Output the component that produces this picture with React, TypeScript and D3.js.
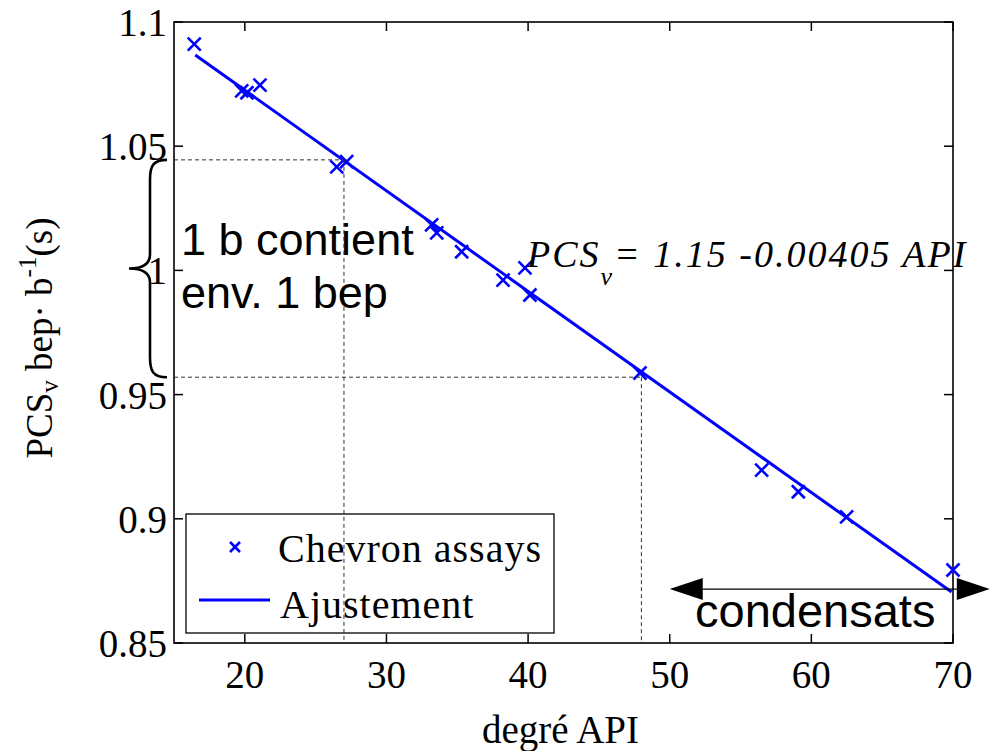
import React from "react";
import * as d3 from "d3";

const apiValues = [16.43, 19.78, 20.15, 21.07, 26.49, 27.19, 33.19, 33.55, 35.31, 38.23, 39.78, 40.13, 47.9, 56.49, 59.08, 62.49, 70.0];
const pcsValues = [1.0911, 1.0723, 1.0715, 1.0746, 1.0417, 1.0438, 1.0183, 1.0151, 1.0075, 0.9961, 1.001, 0.9901, 0.9587, 0.9196, 0.9109, 0.9008, 0.8794];
const fitApi = [16.5, 69.9];
const fitPcs = [1.0867, 0.8705];
const xTickValues = [20, 30, 40, 50, 60, 70];
const yTickValues = [0.85, 0.9, 0.95, 1, 1.05, 1.1];
const yTickLabels = ["0.85", "0.9", "0.95", "1", "1.05", "1.1"];
const guideApi = [27, 48];
const guidePcs = [1.0445, 0.957];
const arrowApi = [50, 72.6];
const arrowPcs = 0.8717;

const W = 990, H = 751;
const M = { left: 174, right: 953, top: 22, bottom: 643 };
const SERIF = "'Liberation Serif', 'Times New Roman', serif";
const SANS = "'Liberation Sans', Arial, sans-serif";
const BLUE = "#0000ff";

export default function App() {
  const x = d3.scaleLinear().domain([15, 70]).range([M.left, M.right]);
  const y = d3.scaleLinear().domain([0.85, 1.1]).range([M.bottom, M.top]);
  const fitLine = d3.line<number>().x((d, i) => x(fitApi[i])).y((d) => y(d))(fitPcs) || "";
  const tick = 9;
  const cross = (cx: number, cy: number, r: number, key: any) => (
    <path key={key} d={`M${cx - r},${cy - r}L${cx + r},${cy + r}M${cx - r},${cy + r}L${cx + r},${cy - r}`} stroke={BLUE} strokeWidth={2.6} fill="none" />
  );
  const gy1 = y(guidePcs[0]), gy2 = y(guidePcs[1]);
  const bx = 150, tipX = 129, endX = 167;
  const midY = (gy1 + gy2) / 2;
  const brace = `M${endX},${gy1} C${bx + 3},${gy1} ${bx},${gy1 + 6} ${bx},${gy1 + 20} L${bx},${midY - 14} C${bx},${midY - 5} ${bx - 6},${midY} ${tipX},${midY} C${bx - 6},${midY} ${bx},${midY + 5} ${bx},${midY + 14} L${bx},${gy2 - 20} C${bx},${gy2 - 6} ${bx + 3},${gy2} ${endX},${gy2}`;
  const ax1 = x(arrowApi[0]), ax2 = x(arrowApi[1]), ay = y(arrowPcs);
  const ah = 33, aw = 11;
  return (
    <svg width={W} height={H} style={{ position: "absolute", left: 0, top: 0, background: "#fff" }}>
      <rect x={0} y={0} width={W} height={H} fill="#fff" />
      {/* frame */}
      <rect x={M.left} y={M.top} width={M.right - M.left} height={M.bottom - M.top} fill="none" stroke="#000" strokeWidth={1.6} />
      {xTickValues.map((v) => (
        <g key={"xt" + v}>
          <line x1={x(v)} x2={x(v)} y1={M.bottom} y2={M.bottom - tick} stroke="#000" strokeWidth={1.5} />
          <line x1={x(v)} x2={x(v)} y1={M.top} y2={M.top + tick} stroke="#000" strokeWidth={1.5} />
          <text x={x(v)} y={M.bottom + 45} fontFamily={SERIF} fontSize={39} textAnchor="middle" fill="#000">{v}</text>
        </g>
      ))}
      {yTickValues.map((v, i) => (
        <g key={"yt" + v}>
          <line x1={M.left} x2={M.left + tick} y1={y(v)} y2={y(v)} stroke="#000" strokeWidth={1.5} />
          <line x1={M.right} x2={M.right - tick} y1={y(v)} y2={y(v)} stroke="#000" strokeWidth={1.5} />
          <text x={M.left - 7} y={y(v) + 14} fontFamily={SERIF} fontSize={39} textAnchor="end" fill="#000">{yTickLabels[i]}</text>
        </g>
      ))}
      {/* axis titles */}
      <text x={(M.left + M.right) / 2 - 3} y={743} fontFamily={SERIF} fontSize={39} textAnchor="middle" fill="#000">degré API</text>
      <text transform={`translate(52,338) rotate(-90)`} fontFamily={SERIF} fontSize={37} textAnchor="middle" fill="#000">
        PCS<tspan fontSize={25} dy={6}>v</tspan><tspan dy={-6}> bep· b</tspan><tspan fontSize={25} dy={-16}>-1</tspan><tspan dy={16}>(s)</tspan>
      </text>
      {/* fit line and points */}
      <path d={fitLine} stroke={BLUE} strokeWidth={3} fill="none" />
      {apiValues.map((a, i) => cross(x(a), y(pcsValues[i]), 6.5, i))}
      {/* legend */}
      <rect x={186} y={514} width={368} height={119} fill="#fff" stroke="#000" strokeWidth={1.3} />
      {cross(235, 547, 5, "lg")}
      <line x1={199} x2={270} y1={600} y2={600} stroke={BLUE} strokeWidth={3} />
      <text x={278} y={562} fontFamily={SERIF} fontSize={40} letterSpacing={1} fill="#000">Chevron assays</text>
      <text x={280} y={618} fontFamily={SERIF} fontSize={40} letterSpacing={1} fill="#000">Ajustement</text>
      {/* guide lines */}
      {guideApi.map((g, i) => (
        <g key={"g" + i}>
          <line x1={M.left} x2={x(g)} y1={y(guidePcs[i])} y2={y(guidePcs[i])} stroke="#333" strokeWidth={1} strokeDasharray="4,3" />
          <line x1={x(g)} x2={x(g)} y1={y(guidePcs[i])} y2={M.bottom} stroke="#333" strokeWidth={1} strokeDasharray="4,3" />
        </g>
      ))}
      {/* brace */}
      <path d={brace} fill="none" stroke="#000" strokeWidth={2.6} />
      <text x={181} y={255} fontFamily={SANS} fontSize={45} fill="#000">1 b contient</text>
      <text x={181} y={308} fontFamily={SANS} fontSize={45} fill="#000">env. 1 bep</text>
      {/* equation */}
      <text x={527} y={267} fontFamily={SERIF} fontStyle="italic" fontSize={38} fill="#000" letterSpacing={2}>
        PCS<tspan fontSize={26} dy={18}>v</tspan><tspan dy={-18}>= 1.15 -0.00405 API</tspan>
      </text>
      {/* condensats arrow */}
      <line x1={ax1 + ah} x2={ax2 - ah} y1={ay} y2={ay} stroke="#000" strokeWidth={1.2} />
      <path d={`M${ax1},${ay}L${ax1 + ah},${ay - aw}L${ax1 + ah},${ay + aw}Z`} fill="#000" />
      <path d={`M${ax2},${ay}L${ax2 - ah},${ay - aw}L${ax2 - ah},${ay + aw}Z`} fill="#000" />
      <text x={695} y={627} fontFamily={SANS} fontSize={47} fill="#000">condensats</text>
    </svg>
  );
}
